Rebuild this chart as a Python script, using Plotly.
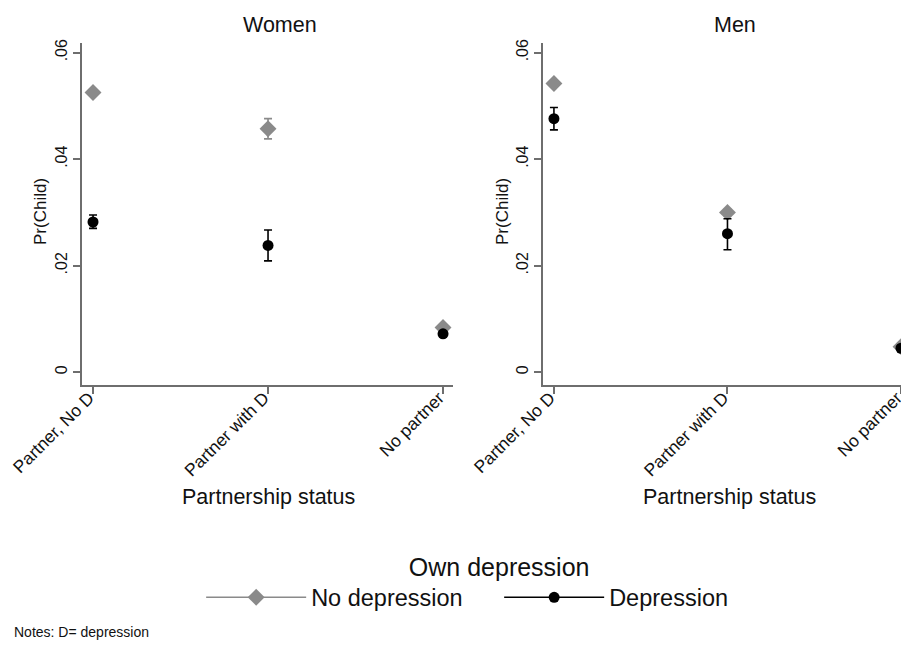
import plotly.graph_objects as go

categories = ["Partner, No D", "Partner with D", "No partner"]

# Women
women_nodep = [0.0525, 0.0457, 0.0084]
women_nodep_up = [0.0005, 0.0019, 0.0004]
women_nodep_lo = [0.0005, 0.0019, 0.0004]
women_dep = [0.0282, 0.0238, 0.0072]
women_dep_up = [0.0013, 0.0029, 0.0005]
women_dep_lo = [0.0012, 0.0029, 0.0005]

# Men
men_nodep = [0.0542, 0.0300, 0.0048]
men_nodep_up = [0.0006, 0.0006, 0.0004]
men_nodep_lo = [0.0006, 0.0006, 0.0004]
men_dep = [0.0476, 0.0260, 0.0045]
men_dep_up = [0.0021, 0.0028, 0.0005]
men_dep_lo = [0.0021, 0.0030, 0.0005]

y_ticks = [0, 0.02, 0.04, 0.06]
y_tick_text = ["0", ".02", ".04", ".06"]

GRAY = "#8a8a8a"
BLACK = "#000000"
AXIS = "#6e6e6e"
FONT = "Liberation Sans, Arial, sans-serif"

fig = go.Figure()

def add_panel(xa, ya, nodep, nup, nlo, dep, dup, dlo):
    fig.add_trace(go.Scatter(
        x=categories, y=nodep, mode="markers", xaxis=xa, yaxis=ya,
        marker=dict(symbol="diamond", size=13, color=GRAY),
        error_y=dict(type="data", array=nup, arrayminus=nlo, symmetric=False,
                     color=GRAY, thickness=1.6, width=4),
        showlegend=False, cliponaxis=False))
    fig.add_trace(go.Scatter(
        x=categories, y=dep, mode="markers", xaxis=xa, yaxis=ya,
        marker=dict(symbol="circle", size=11, color=BLACK),
        error_y=dict(type="data", array=dup, arrayminus=dlo, symmetric=False,
                     color=BLACK, thickness=1.6, width=4),
        showlegend=False, cliponaxis=False))

add_panel("x", "y", women_nodep, women_nodep_up, women_nodep_lo,
          women_dep, women_dep_up, women_dep_lo)
add_panel("x2", "y2", men_nodep, men_nodep_up, men_nodep_lo,
          men_dep, men_dep_up, men_dep_lo)

# legend entries
fig.add_trace(go.Scatter(x=[None], y=[None], mode="lines+markers", name="No depression",
                         line=dict(color=GRAY, width=1.6),
                         marker=dict(symbol="diamond", size=13, color=GRAY)))
fig.add_trace(go.Scatter(x=[None], y=[None], mode="lines+markers", name="Depression",
                         line=dict(color=BLACK, width=1.6),
                         marker=dict(symbol="circle", size=11, color=BLACK)))

W, H = 901, 650
ydom = [1 - 385 / H, 1 - 43 / H]

common_x = dict(type="category", showline=True, linecolor=AXIS, linewidth=1.5,
                ticks="outside", ticklen=7, tickcolor=AXIS, tickwidth=1.5,
                tickangle=-45, showgrid=False, zeroline=False, automargin=False,
                ticklabelstandoff=-13, ticklabelshift=-4,
                tickfont=dict(size=17.5, color="#111", family=FONT))
common_y = dict(showline=True, linecolor=AXIS, linewidth=1.5,
                ticks="outside", ticklen=7, tickcolor=AXIS, tickwidth=1.5,
                tickangle=-90, showgrid=False, zeroline=False, automargin=False,
                tickvals=y_ticks, ticktext=y_tick_text,
                range=[-0.0024, 0.0618], domain=ydom,
                ticklabelstandoff=0,
                tickfont=dict(size=16, color="#111", family=FONT))

fig.update_layout(
    width=W, height=H,
    margin=dict(l=0, r=0, t=0, b=0, autoexpand=False),
    paper_bgcolor="white", plot_bgcolor="white",
    font=dict(family=FONT, color="#111"),
    xaxis=dict(common_x, domain=[82 / W, 453 / W], range=[-0.063, 2.057]),
    yaxis=dict(common_y, anchor="x"),
    xaxis2=dict(common_x, domain=[543 / W, 1.0], range=[-0.063, 2.0], anchor="y2"),
    yaxis2=dict(common_y, anchor="x2"),
    legend=dict(orientation="h", x=0.554, xanchor="center", y=1 - 543 / H, yanchor="top",
                title=dict(text="Own depression", side="top center",
                           font=dict(size=25, color="#111", family=FONT)),
                font=dict(size=23.5, color="#111", family=FONT),
                itemwidth=100, entrywidth=183, entrywidthmode="pixels",
                bgcolor="rgba(0,0,0,0)"),
)

ann = [
    dict(text="Women", x=280 / W, y=1 - 25 / H),
    dict(text="Men", x=735 / W, y=1 - 25 / H),
    dict(text="Partnership status", x=268 / W, y=1 - 497 / H),
    dict(text="Partnership status", x=729 / W, y=1 - 497 / H),
]
for a in ann:
    fig.add_annotation(xref="paper", yref="paper", showarrow=False,
                       xanchor="center", yanchor="middle",
                       font=dict(size=21.5, color="#111", family=FONT), **a)
for xp in [41, 503]:
    fig.add_annotation(xref="paper", yref="paper", showarrow=False, text="Pr(Child)",
                       textangle=-90, x=xp / W, y=1 - 212 / H, xanchor="center", yanchor="middle",
                       font=dict(size=17, color="#111", family=FONT))
fig.add_annotation(xref="paper", yref="paper", showarrow=False, text="Notes: D= depression",
                   x=12 / W, y=1 - 632 / H, xanchor="left", yanchor="middle",
                   font=dict(size=14, color="#111", family=FONT))

fig.write_html("out.html", config={"displayModeBar": False},
               post_script="document.body.style.margin='0px';")
